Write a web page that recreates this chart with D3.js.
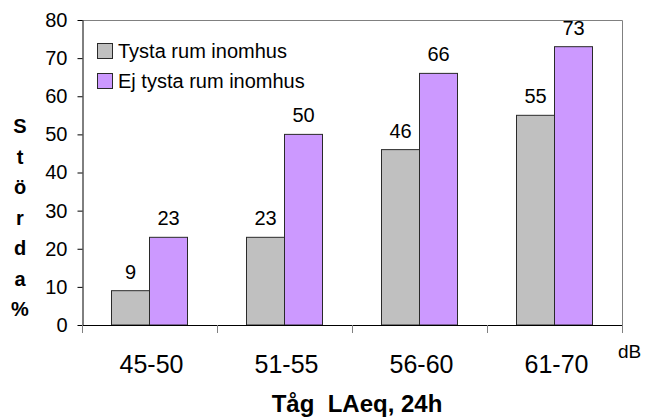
<!DOCTYPE html>
<html>
<head>
<meta charset="utf-8">
<script src="https://d3js.org/d3.v7.min.js"></script>
<style>
  body { margin: 0; background: #fff; }
  svg { display: block; font-family: "Liberation Sans", Arial, sans-serif; }
</style>
</head>
<body>
<div id="chart"></div>
<script>
// data
const categories = ["45-50", "51-55", "56-60", "61-70"];
const seriesNames = ["Tysta rum inomhus", "Ej tysta rum inomhus"];
const tystaValues = [9, 23, 46, 55];
const ejTystaValues = [23, 50, 66, 73];
const yTicks = [0, 10, 20, 30, 40, 50, 60, 70, 80];
const yTitle = "Störda%";
const xTitle = "Tåg  LAeq, 24h";
const unitLabel = "dB";

const colors = { "Tysta rum inomhus": "#c0c0c0", "Ej tysta rum inomhus": "#cc99ff" };

const width = 645, height = 419;
const plotLeft = 82, plotRight = 622, plotTop = 20, plotBottom = 325;

const rows = categories.map((c, i) => ({
  cat: c,
  vals: [
    { name: seriesNames[0], value: tystaValues[i] },
    { name: seriesNames[1], value: ejTystaValues[i] }
  ]
}));

const svg = d3.select("#chart").append("svg")
  .attr("width", width)
  .attr("height", height);

const x0 = d3.scaleBand().domain(categories).range([plotLeft, plotRight]).padding(0);
const x1 = d3.scaleBand().domain(seriesNames).range([29.5, 105.5]);
const y = d3.scaleLinear().domain([0, 80]).range([plotBottom, plotTop]);

// frame (top + right grey)
svg.append("path")
  .attr("d", `M${plotLeft},${plotTop + 0.5}H${plotRight + 0.5}V${plotBottom}`)
  .attr("fill", "none")
  .attr("stroke", "#808080")
  .attr("stroke-width", 1);

// bars
const groups = svg.append("g").selectAll("g")
  .data(rows)
  .enter().append("g")
  .attr("transform", d => `translate(${x0(d.cat)},0)`);

groups.selectAll("rect")
  .data(d => d.vals)
  .enter().append("rect")
  .attr("x", d => x1(d.name))
  .attr("y", d => y(d.value))
  .attr("width", x1.bandwidth())
  .attr("height", d => plotBottom - y(d.value))
  .attr("fill", d => colors[d.name])
  .attr("stroke", "#2a2a2a")
  .attr("stroke-width", 1);

groups.selectAll("text")
  .data(d => d.vals)
  .enter().append("text")
  .attr("x", d => x1(d.name) + x1.bandwidth() / 2)
  .attr("y", d => y(d.value) - 12)
  .attr("text-anchor", "middle")
  .attr("font-size", "20px")
  .attr("fill", "#000")
  .text(d => d.value);

// y axis
const yAxis = d3.axisLeft(y).tickValues(yTicks).tickSize(5).tickSizeOuter(0).tickPadding(10);
const gy = svg.append("g")
  .attr("transform", `translate(${plotLeft + 0.5},0)`)
  .call(yAxis);
gy.select(".domain").attr("stroke", "#000");
gy.selectAll(".tick line").attr("stroke", "#000");
gy.selectAll(".tick text")
  .attr("font-size", "20px")
  .attr("font-family", "Liberation Sans, Arial, sans-serif")
  .attr("fill", "#000");

// x axis (ticks at category boundaries)
svg.append("line")
  .attr("x1", plotLeft).attr("x2", plotRight + 1)
  .attr("y1", plotBottom + 0.5).attr("y2", plotBottom + 0.5)
  .attr("stroke", "#000");

const boundaries = categories.map(c => x0(c)).concat([x0(categories[categories.length - 1]) + x0.bandwidth()]);
svg.append("g").selectAll("line")
  .data(boundaries)
  .enter().append("line")
  .attr("x1", d => Math.round(d) + 0.5).attr("x2", d => Math.round(d) + 0.5)
  .attr("y1", plotBottom).attr("y2", plotBottom + 8)
  .attr("stroke", "#808080");

svg.append("g").selectAll("text")
  .data(categories)
  .enter().append("text")
  .attr("x", d => x0(d) + x0.bandwidth() / 2 + 2)
  .attr("y", 373)
  .attr("text-anchor", "middle")
  .attr("font-size", "25px")
  .attr("fill", "#000")
  .text(d => d);

svg.append("text")
  .attr("x", 618)
  .attr("y", 358)
  .attr("font-size", "19px")
  .attr("fill", "#000")
  .text(unitLabel);

// x title
svg.append("text")
  .attr("x", 357)
  .attr("y", 412)
  .attr("text-anchor", "middle")
  .attr("font-size", "24px")
  .attr("font-weight", "bold")
  .attr("fill", "#000")
  .style("white-space", "pre")
  .text(xTitle);

// y title, stacked letters
svg.append("g").selectAll("text")
  .data(Array.from(yTitle))
  .enter().append("text")
  .attr("x", 20)
  .attr("y", (d, i) => 133 + i * 30.5)
  .attr("text-anchor", "middle")
  .attr("font-size", "20px")
  .attr("font-weight", "bold")
  .attr("fill", "#000")
  .text(d => d);

// legend
const legend = svg.append("g").selectAll("g")
  .data(seriesNames)
  .enter().append("g")
  .attr("transform", (d, i) => `translate(97,${43 + i * 30})`);

legend.append("rect")
  .attr("x", 0.5).attr("y", 0.5)
  .attr("width", 15).attr("height", 15)
  .attr("fill", d => colors[d])
  .attr("stroke", "#2a2a2a");

legend.append("text")
  .attr("x", 21)
  .attr("y", 15)
  .attr("font-size", "20px")
  .attr("fill", "#000")
  .text(d => d);
</script>
</body>
</html>
